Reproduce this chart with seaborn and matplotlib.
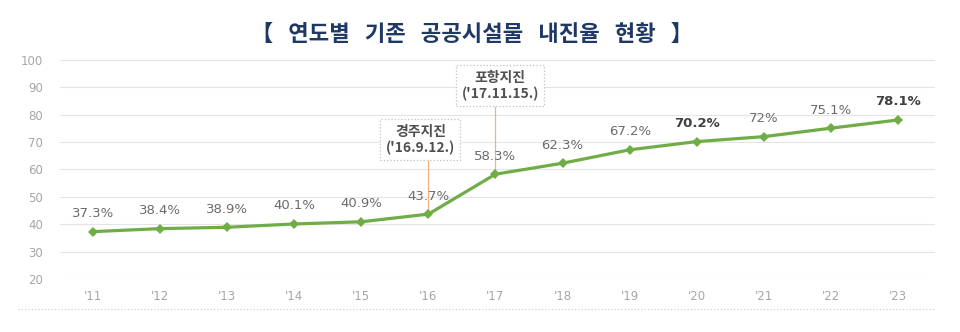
import matplotlib
matplotlib.use("Agg")
import matplotlib.pyplot as plt
import seaborn as sns
import pandas as pd
from matplotlib.lines import Line2D

# Data
years = ["'11", "'12", "'13", "'14", "'15", "'16", "'17", "'18", "'19", "'20", "'21", "'22", "'23"]
rates = [37.3, 38.4, 38.9, 40.1, 40.9, 43.7, 58.3, 62.3, 67.2, 70.2, 72.0, 75.1, 78.1]
bold_years = ["'20", "'23"]
event_labels = ["경주지진\n('16.9.12.)", "포항지진\n('17.11.15.)"]
event_years = ["'16", "'17"]
y_ticks = [20, 30, 40, 50, 60, 70, 80, 90, 100]
title = "【   연도별   기존   공공시설물   내진율   현황   】"

sns.set_theme(style="white")
plt.rcParams["font.family"] = ["DejaVu Sans", "Noto Sans CJK KR"]

fig = plt.figure(figsize=(9.6, 3.32), dpi=100)
ax = fig.add_axes([60 / 960, 1 - 279 / 332, 875 / 960, 219 / 332])

df = pd.DataFrame({"year": years, "rate": rates})
sns.lineplot(data=df, x="year", y="rate", ax=ax, color="#70ad47", linewidth=2.3,
             marker="D", markersize=5.5, markeredgewidth=0, sort=False, zorder=3)

ax.set_xlim(-0.49, 12.55)
ax.set_ylim(20, 100)
ax.set_yticks(y_ticks)
ax.set_yticklabels([str(t) for t in y_ticks], color="#a6a6a6", fontsize=8.5)
ax.set_xticks(range(len(years)))
ax.set_xticklabels(years, color="#a6a6a6", fontsize=8.5)
ax.tick_params(axis="y", length=0, pad=12)
ax.tick_params(axis="x", length=0, pad=8)
ax.set_xlabel("")
ax.set_ylabel("")
ax.yaxis.grid(True, color="#e4e4e4", linewidth=0.8)
ax.xaxis.grid(False)
sns.despine(ax=ax, left=True, bottom=True)

# Value labels above each point
for yr, v in zip(years, rates):
    i = years.index(yr)
    bold = yr in bold_years
    ax.annotate(f"{v:g}%", (i, v), xytext=(0, 13), textcoords="offset points",
                ha="center", va="center", fontsize=9.5,
                color="#404040" if bold else "#6b6b6b",
                fontweight="bold" if bold else "normal", zorder=4)

# Earthquake callouts
event_pos = [(4.88, 70.9), (6.07, 90.6)]
boxes = []
for lab, (bx, by) in zip(event_labels, event_pos):
    t = ax.text(bx, by, lab, ha="center", va="center", fontsize=10,
                color="#505050", fontweight="bold", linespacing=1.15,
                family=["Noto Sans CJK KR", "DejaVu Sans"],
                bbox=dict(boxstyle="square,pad=0.38", facecolor="white",
                          edgecolor="#c0c0c0", linestyle=":", linewidth=0.9),
                zorder=5)
    boxes.append(t)

fig.canvas.draw()
inv = ax.transData.inverted()
for t, yr in zip(boxes, event_years):
    i = years.index(yr)
    bb = t.get_bbox_patch().get_window_extent()
    y_bottom = inv.transform((bb.x0, bb.y0))[1]
    ax.vlines(i, rates[i], y_bottom, color="#f4b183", linewidth=0.9, zorder=2)

# Title
fig.text(0.492, 1 - 34 / 332, title, ha="center", va="center", fontsize=16,
         fontweight="bold", color="#1f3864",
         family=["Noto Sans CJK KR", "DejaVu Sans"])

# Bottom separator
fig.add_artist(Line2D([18 / 960, 935 / 960], [1 - 309 / 332] * 2,
                      transform=fig.transFigure, linestyle=":",
                      color="#cfcfcf", linewidth=0.9))

fig.savefig("out.png", dpi=100)
